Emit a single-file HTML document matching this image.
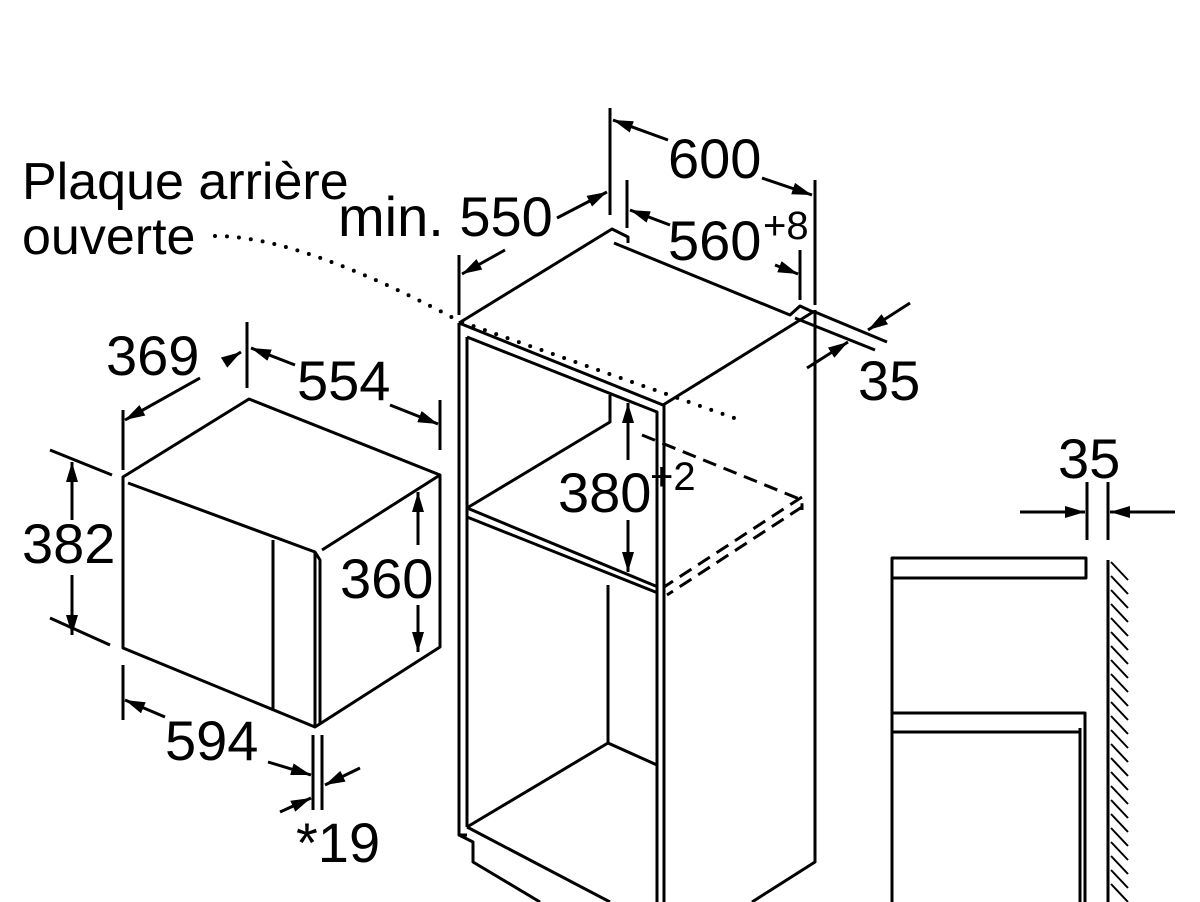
<!DOCTYPE html>
<html><head><meta charset="utf-8"><style>
html,body{margin:0;padding:0;background:#fff;}
svg{display:block;}
text{font-family:"Liberation Sans",sans-serif;fill:#000;}
</style></head><body>
<svg width="1200" height="902" viewBox="0 0 1200 902" xmlns="http://www.w3.org/2000/svg">
<defs>
<marker id="a" viewBox="0 0 20 12" refX="20" refY="6" markerWidth="20" markerHeight="12" markerUnits="userSpaceOnUse" orient="auto"><path d="M0,0 L20,6 L0,12 Z" fill="#000"/></marker>
</defs>
<g stroke="#000" stroke-width="3" fill="none" stroke-linejoin="round">
<path d="M459,323 L612,229 L628,237 L628,243 M614,243 L790,315 L800,306 L813,312 L663,405 L459,323"/>
<path d="M459,323 L459,835 L467,835 M467,337 L657,412 L657,902 M664,405 L664,902 M467,337 L467,827"/>
<path d="M815,310 L815,862 L752,902"/>
<path d="M467,508 L658,587 M467,517 L658,593 M467,508 L610,422 L610,395 M608,585 L608,743 L657,765 M608,743 L467,827"/>
<path d="M459,835 L473,842 L473,862 L540,902 M467,827 L610,902"/>
<path d="M642,435 L802,500 L802,510 M802,497 L664,587 M802,507 L667,595" stroke-dasharray="14,8"/>
<path d="M610,108 L610,215 M815,180 L815,305 M627,180 L627,228 M800,250 L800,300 M459,255 L459,315"/>
<path d="M668,140 L613,120" marker-end="url(#a)"/>
<path d="M762,178 L812,195" marker-end="url(#a)"/>
<path d="M670,225 L630,210" marker-end="url(#a)"/>
<path d="M775,265 L798,274" marker-end="url(#a)"/>
<path d="M557,218 L607,192" marker-end="url(#a)"/>
<path d="M505,250 L462,274" marker-end="url(#a)"/>
<path d="M815,312 L887,342 M795,318 L875,350"/>
<path d="M910,303 L868,330" marker-end="url(#a)"/>
<path d="M807,368 L848,342" marker-end="url(#a)"/>
<path d="M628,460 L628,403" marker-end="url(#a)"/>
<path d="M628,520 L628,572" marker-end="url(#a)"/>
<path d="M123,477 L249,399 L440,475 L440,647 L315,727 L123,648 Z"/>
<path d="M128,483 L315,552 L320,560 L320,723 M322,550 L440,475 M273,540 L273,710 M315,552 L315,727"/>
<path d="M123,410 L123,470 M247,322 L247,388 M440,400 L440,450 M50,450 L112,475 M50,618 L110,645 M123,665 L123,720 M313,735 L313,810 M322,735 L322,810"/>
<path d="M200,378 L125,420" marker-end="url(#a)"/>
<path d="M225,362 L241,352" marker-end="url(#a)"/>
<path d="M295,365 L251,348" marker-end="url(#a)"/>
<path d="M390,405 L438,424" marker-end="url(#a)"/>
<path d="M72,520 L72,462" marker-end="url(#a)"/>
<path d="M72,575 L72,635" marker-end="url(#a)"/>
<path d="M418,545 L418,492" marker-end="url(#a)"/>
<path d="M418,605 L418,652" marker-end="url(#a)"/>
<path d="M165,717 L125,700" marker-end="url(#a)"/>
<path d="M268,762 L311,775" marker-end="url(#a)"/>
<path d="M360,768 L325,785" marker-end="url(#a)"/>
<path d="M280,812 L311,798" marker-end="url(#a)"/>
<path d="M892,558 L1086,558 L1086,578 L892,578 Z M892,578 L892,902 M892,713 L1085,713 L1085,902 M892,732 L1080,732 M1080,728 L1080,902"/>
<path d="M1108,560 L1108,902"/>
<path d="M1087,482 L1087,540 M1108,482 L1108,540"/>
<path d="M1020,512 L1085,512" marker-end="url(#a)"/>
<path d="M1175,512 L1110,512" marker-end="url(#a)"/>
</g>
<g stroke="#000" stroke-width="2">
<path d="M1111,562 l17,18 M1111,576 l17,18 M1111,590 l17,18 M1111,604 l17,18 M1111,618 l17,18 M1111,632 l17,18 M1111,646 l17,18 M1111,660 l17,18 M1111,674 l17,18 M1111,688 l17,18 M1111,702 l17,18 M1111,716 l17,18 M1111,730 l17,18 M1111,744 l17,18 M1111,758 l17,18 M1111,772 l17,18 M1111,786 l17,18 M1111,800 l17,18 M1111,814 l17,18 M1111,828 l17,18 M1111,842 l17,18 M1111,856 l17,18 M1111,870 l17,18 M1111,884 l17,18"/>
</g>
<path d="M215,236 Q300,236 459,321 L740,420" stroke="#000" stroke-width="4" fill="none" stroke-linecap="round" stroke-dasharray="0,12"/>
<g font-size="56">
<text x="22" y="199" font-size="52">Plaque arrière</text>
<text x="22" y="254" font-size="52">ouverte</text>
<text x="338" y="236">min. 550</text>
<text x="668" y="178">600</text>
<text x="668" y="260">560</text>
<text x="763" y="239" font-size="40">+8</text>
<text x="858" y="400">35</text>
<text x="558" y="512">380</text>
<text x="650" y="490" font-size="40">+2</text>
<text x="106" y="375">369</text>
<text x="297" y="400">554</text>
<text x="22" y="563">382</text>
<text x="340" y="598">360</text>
<text x="165" y="760">594</text>
<text x="296" y="862">*19</text>
<text x="1058" y="478">35</text>
</g>
</svg>
</body></html>
